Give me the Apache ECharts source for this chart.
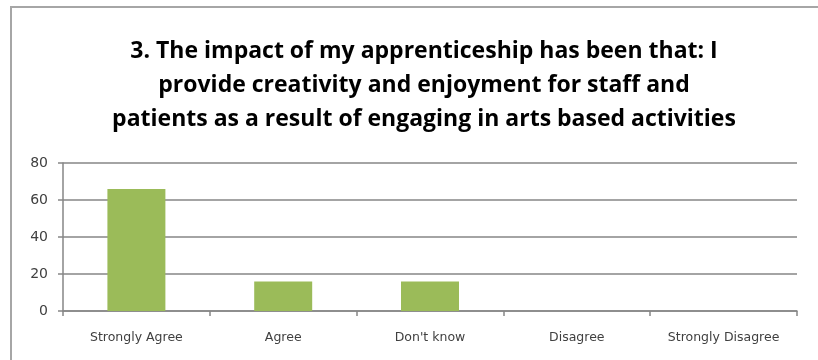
<!DOCTYPE html>
<html>
<head>
<meta charset="utf-8">
<script src="https://cdn.jsdelivr.net/npm/echarts@6/dist/echarts.min.js"></script>
<style>
  html, body { margin: 0; padding: 0; background: #fff; }
  #chart { width: 818px; height: 360px; }
</style>
</head>
<body>
<div id="chart"></div>
<script>
// Survey responses for statement 3
const titleText = '3. The impact of my apprenticeship has been that: I\nprovide creativity and enjoyment for staff and\npatients as a result of engaging in arts based activities';
const categories = ['Strongly Agree', 'Agree', "Don't know", 'Disagree', 'Strongly Disagree'];
const responses = [66, 16, 16, 0, 0];
const yTicks = [0, 20, 40, 60, 80];

const chart = echarts.init(document.getElementById('chart'), null, { renderer: 'canvas' });

chart.setOption({
  backgroundColor: '#ffffff',
  animation: false,
  graphic: [{
    type: 'rect',
    shape: { x: 11, y: 7, width: 900, height: 500 },
    style: { fill: 'none', stroke: '#a6a6a6', lineWidth: 2 },
    silent: true
  }],
  title: {
    text: titleText,
    left: 419,
    textAlign: 'center',
    top: 29,
    textStyle: {
      fontFamily: 'Open Sans',
      fontWeight: 'bold',
      fontSize: 23,
      lineHeight: 34,
      color: '#000000'
    }
  },
  grid: { left: 63, right: 21, top: 163, bottom: 49, containLabel: false },
  xAxis: {
    type: 'category',
    data: categories,
    axisLine: { lineStyle: { color: '#868686', width: 1.5 } },
    axisTick: { show: true, alignWithLabel: false, length: 5, lineStyle: { color: '#868686', width: 1.5 } },
    axisLabel: { color: '#404040', fontFamily: 'DejaVu Sans', fontSize: 12.5, margin: 20 }
  },
  yAxis: {
    type: 'value',
    min: yTicks[0],
    max: yTicks[yTicks.length - 1],
    interval: yTicks[1] - yTicks[0],
    axisLine: { show: true, lineStyle: { color: '#868686', width: 1.5 } },
    axisTick: { show: true, length: 5, lineStyle: { color: '#868686', width: 1.5 } },
    axisLabel: { color: '#404040', fontFamily: 'DejaVu Sans', fontSize: 14, margin: 15 },
    splitLine: { lineStyle: { color: '#868686', width: 1.5 } }
  },
  series: [{
    type: 'bar',
    data: responses,
    barWidth: '39.5%',
    itemStyle: { color: '#9bbb59' }
  }]
});
</script>
</body>
</html>
